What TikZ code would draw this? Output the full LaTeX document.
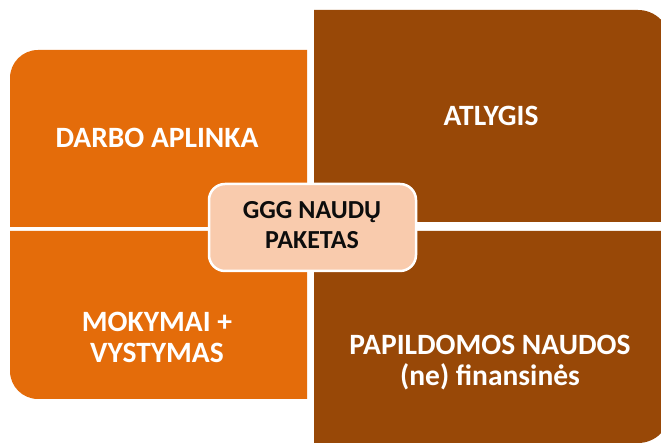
\documentclass[tikz,border=0pt]{standalone}
\usepackage{fontspec}
\setmainfont{Carlito}
\definecolor{orangebox}{HTML}{E46C0A}
\definecolor{brownbox}{HTML}{984807}
\definecolor{peachbox}{HTML}{F9CBAD}
\tikzset{
  quadtext/.style={text=white,font=\bfseries\fontsize{29.5}{31}\selectfont,align=center},
  hubtext/.style={text=black!95,font=\bfseries\fontsize{26}{30}\selectfont,align=center}
}
\begin{document}
\begin{tikzpicture}[x=1pt,y=1pt]
\clip (0,0) rectangle (661,443);
\fill [white] (0,0) rectangle (661,443);
\coordinate (TL) at (10,216);
\coordinate (BL) at (10,212);
\coordinate (TR) at (314,221);
\coordinate (BR) at (314,212);
\coordinate (H) at (312.5,215.5);
% four quarters
\fill [orangebox] (307,216) -- (TL) -- (10,365) arc [start angle=180,end angle=90,radius=28] -- (307,393) -- cycle;
\fill [orangebox] (307,212) -- (307,44) -- (38,44) arc [start angle=270,end angle=180,radius=28] -- (BL) -- cycle;
\fill [brownbox] (TR) -- (314,433) -- (638,433) arc [start angle=90,end angle=0,radius=32] -- (670,221) -- cycle;
\fill [brownbox] (BR) -- (314,0) -- (638,0) arc [start angle=270,end angle=360,radius=32] -- (670,212) -- cycle;
% hub
\node (hub) [draw=white,line width=2.5pt,fill=peachbox,rounded corners=16pt,minimum width=207pt,minimum height=87pt] at (H) {};
\node (hublabel) [hubtext] at (312,218) {GGG NAUDŲ\\PAKETAS};
% labels
\node (darbo) [quadtext,anchor=base] at (157,295) {DARBO APLINKA};
\node (atlygis) [quadtext,anchor=base] at (491,317) {ATLYGIS};
\node (mokymai) [quadtext] at (157,106) {MOKYMAI +\\VYSTYMAS};
\node (papildomos) [quadtext] at (490,80) {PAPILDOMOS NAUDOS\\(ne) finansinės};
\end{tikzpicture}
\end{document}
